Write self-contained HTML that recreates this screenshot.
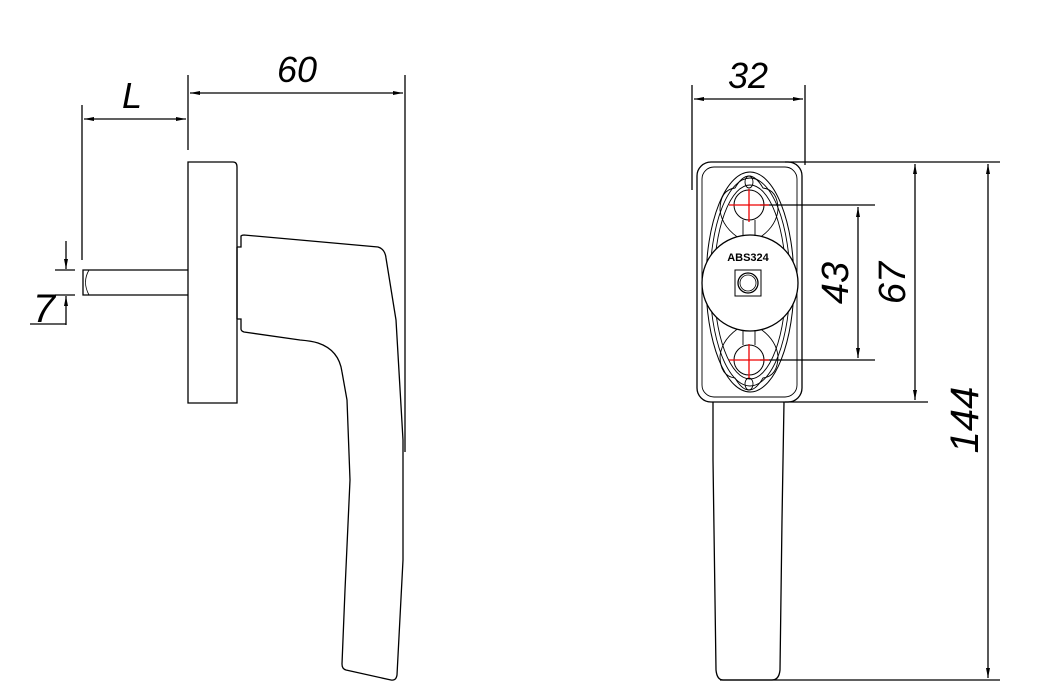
<!DOCTYPE html>
<html><head><style>html,body{margin:0;padding:0;background:#fff}svg{display:block}</style></head>
<body>
<svg width="1037" height="689" viewBox="0 0 1037 689" xmlns="http://www.w3.org/2000/svg">
<defs>
<marker id="a" viewBox="0 0 10 4" refX="10" refY="2" markerWidth="12" markerHeight="4" markerUnits="userSpaceOnUse" orient="auto-start-reverse"><path d="M0,0 L10,2 L0,4 z" fill="#000"/></marker>
</defs>
<g fill="none" stroke="#000" stroke-width="1.3">
<!-- LEFT VIEW -->
<line x1="188" y1="75" x2="188" y2="150"/>
<line x1="405" y1="75" x2="405" y2="452"/>
<line x1="190" y1="93" x2="403" y2="93" marker-start="url(#a)" marker-end="url(#a)"/>
<line x1="82" y1="105" x2="82" y2="260"/>
<line x1="84" y1="119" x2="186" y2="119" marker-start="url(#a)" marker-end="url(#a)"/>
<path d="M188,162 H233 Q237,162 237,167 V403 H188 Z"/>
<path d="M188,270 H83 V295 H188"/>
<path d="M89,270 Q82,282 89,295" stroke-width="0.8"/>
<line x1="66" y1="241" x2="66" y2="269" marker-end="url(#a)"/>
<line x1="66" y1="325" x2="66" y2="296" marker-end="url(#a)"/>
<line x1="55" y1="270" x2="75" y2="270"/>
<line x1="55" y1="295" x2="75" y2="295"/>
<line x1="30" y1="324" x2="66" y2="324"/>
<path d="M237,247 H241 V236 Q242,235 244,235 L378,247 Q385,249 386,258 L396,320 L403,440 L403,560 L397,675 Q396,681 391,680 L346,670 Q342,669 342,664 L345,590 L350,480 L347,400 L342,372 Q339,350 318,343 Q312,341 300,340 L244,332 Q241,331 241,329 V319 H237"/>
<line x1="237" y1="247" x2="237" y2="319"/>
<!-- RIGHT VIEW -->
<line x1="692" y1="85" x2="692" y2="190"/>
<line x1="805" y1="85" x2="805" y2="165"/>
<line x1="694" y1="99" x2="803" y2="99" marker-start="url(#a)" marker-end="url(#a)"/>
<rect x="697" y="162" width="105" height="240" rx="14"/>
<rect x="702" y="167" width="95" height="230" rx="12" stroke-width="0.9"/>
<ellipse cx="750" cy="282" rx="44" ry="110" stroke-width="1"/>
<ellipse cx="750" cy="282" rx="40" ry="104" stroke-width="0.9"/>
<ellipse cx="750" cy="282" rx="36" ry="97" stroke-width="0.9"/>
<path d="M742,240 Q722,228 720,210 Q720,190 735,188 Q742,176 749,176 Q756,176 763,188 Q778,190 778,210 Q776,228 756,240" stroke-width="0.9"/>
<path d="M742,326 Q722,338 720,356 Q720,376 735,378 Q742,390 749,390 Q756,390 763,378 Q778,376 778,356 Q776,338 756,326" stroke-width="0.9"/>
<circle cx="750" cy="283" r="48" fill="#fff"/>
<rect x="735" y="270" width="26" height="26" stroke-width="1"/>
<circle cx="748" cy="283" r="10"/>
<circle cx="748" cy="283" r="8" stroke-width="0.8"/>
<circle cx="749" cy="205" r="15" stroke-width="1"/>
<circle cx="749" cy="360" r="15" stroke-width="1"/>
<ellipse cx="749" cy="182" rx="4" ry="6" stroke-width="0.9"/>
<ellipse cx="749" cy="384" rx="4" ry="6" stroke-width="0.9"/>
<path d="M743,220 V236 M755,220 V236 M743,345 V330 M755,345 V330" stroke-width="0.9"/>
<path d="M713,402 V460 L716,670 Q717,680 723,680 H772 Q779,680 780,670 L782,520 L784,402" />
<line x1="760" y1="205" x2="875" y2="205"/>
<line x1="760" y1="360" x2="875" y2="360"/>
<line x1="858" y1="207" x2="858" y2="358" marker-start="url(#a)" marker-end="url(#a)"/>
<line x1="785" y1="162" x2="928" y2="162"/>
<line x1="785" y1="402" x2="928" y2="402"/>
<line x1="915" y1="164" x2="915" y2="400" marker-start="url(#a)" marker-end="url(#a)"/>
<line x1="928" y1="162" x2="1000" y2="162"/>
<line x1="720" y1="680" x2="1000" y2="680"/>
<line x1="988" y1="164" x2="988" y2="678" marker-start="url(#a)" marker-end="url(#a)"/>
</g>
<g stroke="#e00" stroke-width="1.3">
<line x1="729" y1="205" x2="769" y2="205"/><line x1="749" y1="189" x2="749" y2="222"/>
<line x1="729" y1="360" x2="769" y2="360"/><line x1="749" y1="344" x2="749" y2="378"/>
</g>
<g font-family="Liberation Sans, sans-serif" font-style="italic" fill="#000">
<text x="297" y="82" font-size="36" text-anchor="middle">60</text>
<text x="132" y="108" font-size="36" text-anchor="middle">L</text>
<text x="44" y="322" font-size="40" text-anchor="middle">7</text>
<text x="748" y="88" font-size="36" text-anchor="middle">32</text>
<text transform="translate(848,283) rotate(-90)" font-size="38" text-anchor="middle">43</text>
<text transform="translate(905,283) rotate(-90)" font-size="38" text-anchor="middle">67</text>
<text transform="translate(978,420) rotate(-90)" font-size="40" text-anchor="middle">144</text>
<text x="748" y="261" font-size="11" font-style="normal" font-weight="bold" text-anchor="middle">ABS324</text>
</g>
</svg>
</body></html>
